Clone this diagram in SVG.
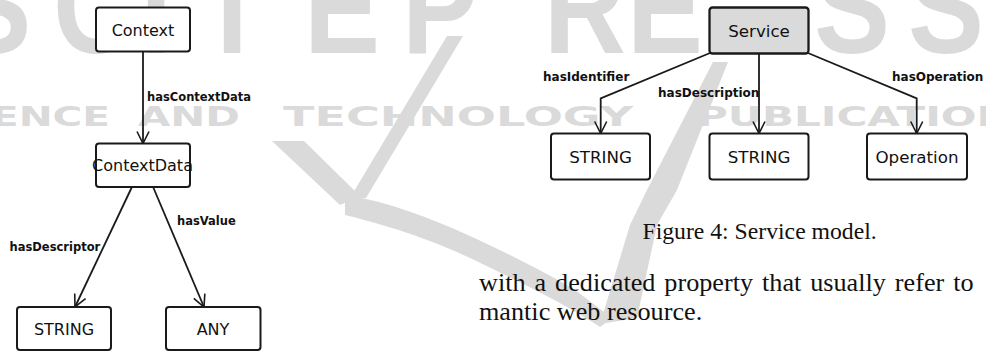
<svg xmlns="http://www.w3.org/2000/svg" width="986" height="351" viewBox="0 0 986 351">
<style>
.wm{fill:#dadada;}
.wmt{font-family:"Liberation Sans",Arial,sans-serif;font-weight:bold;font-size:134px;text-anchor:middle;fill:#dadada;}
.wmm{font-family:"DejaVu Sans",sans-serif;font-weight:bold;font-size:26px;fill:#dadada;}
.box{fill:#ffffff;stroke:#1a1a1a;stroke-width:2;}
.node{font-family:"DejaVu Sans",sans-serif;font-size:16px;text-anchor:middle;fill:#111;}
.nodeR{font-family:"DejaVu Sans",sans-serif;font-size:16.7px;text-anchor:middle;fill:#111;}
.lbl{font-family:"DejaVu Sans",sans-serif;font-weight:bold;font-size:11.5px;fill:#111;}
.lblR{font-family:"DejaVu Sans",sans-serif;font-weight:bold;font-size:12px;fill:#111;}
.edge{fill:none;stroke:#1a1a1a;stroke-width:1.8;}
.serif{font-family:"Liberation Serif","Times New Roman",serif;fill:#111;}
</style>
<defs>
<marker id="arr" markerUnits="userSpaceOnUse" markerWidth="16" markerHeight="16" refX="13" refY="7" orient="auto">
<path d="M1,1 L13,7 L1,13" fill="none" stroke="#1a1a1a" stroke-width="1.6"/>
</marker>
</defs>
<rect width="986" height="351" fill="#ffffff"/>
<g id="watermark">
<g transform="scale(0.85,1)">
<text class="wmt" x="-8" y="53">S</text>
<text class="wmt" x="110.6" y="53">C</text>
<text class="wmt" x="183.5" y="53">I</text>
<text class="wmt" x="272.9" y="53">T</text>
<text class="wmt" x="402.4" y="53">E</text>
<text class="wmt" x="517.6" y="53">P</text>
<text class="wmt" x="688.2" y="53">R</text>
<text class="wmt" x="782.4" y="53">E</text>
<text class="wmt" x="1002.4" y="53">S</text>
<text class="wmt" x="1112.9" y="53">S</text>
</g>
<text class="wmm" x="-83" y="126" textLength="193" lengthAdjust="spacingAndGlyphs">SCIENCE</text>
<text class="wmm" x="138" y="126" textLength="102" lengthAdjust="spacingAndGlyphs">AND</text>
<text class="wmm" x="283" y="126" textLength="350" lengthAdjust="spacingAndGlyphs">TECHNOLOGY</text>
<text class="wmm" x="697" y="126" textLength="345" lengthAdjust="spacingAndGlyphs">PUBLICATIONS</text>
<polygon class="wm" points="272,141 304,141 360,196 340,205"/>
<polygon class="wm" points="447,36 463,36 366,198 350,198"/>
<path class="wm" d="M345,195 C390,202 430,218 470,236 C505,252 545,272 575,290 L612,318 L600,327 C575,310 540,292 505,275 C470,258 430,236 345,215 Z"/>
<polygon class="wm" points="713,62 728,62 677,190 657,225 637,318 600,324 630,225 647,190"/>
</g>
<g id="connectors">
<path class="edge" d="M143,52 L143,143.5" marker-end="url(#arr)"/>
<path class="edge" d="M131.7,187.5 L75,307" marker-end="url(#arr)"/>
<path class="edge" d="M153.3,187.5 L204,307" marker-end="url(#arr)"/>
<path class="edge" d="M710,53 L600.7,98.3 L600.7,133.5" marker-end="url(#arr)"/>
<path class="edge" d="M759,53.5 L759,133.5" marker-end="url(#arr)"/>
<path class="edge" d="M808,53 L916.7,98.3 L916.7,133.5" marker-end="url(#arr)"/>
<text class="lbl" x="147" y="101">hasContextData</text>
<text class="lbl" x="9.5" y="251">hasDescriptor</text>
<text class="lbl" x="177" y="225">hasValue</text>
<text class="lblR" x="543" y="81">hasIdentifier</text>
<text class="lblR" x="658" y="97">hasDescription</text>
<text class="lblR" x="892" y="81">hasOperation</text>
</g>
<g id="n-context">
<rect class="box" x="96" y="7.5" width="94" height="44" rx="3"/>
<text class="node" x="143" y="35.5">Context</text>
</g>
<g id="n-contextdata">
<rect class="box" x="96" y="143.5" width="94" height="43.5" rx="3"/>
<text class="node" x="142.5" y="171">ContextData</text>
</g>
<g id="n-string-left">
<rect class="box" x="17" y="307" width="94" height="43" rx="3"/>
<text class="node" x="64" y="334.5">STRING</text>
</g>
<g id="n-any">
<rect class="box" x="166" y="307" width="94.5" height="43" rx="3"/>
<text class="node" x="213" y="334.5">ANY</text>
</g>
<g id="n-service">
<rect class="box" x="709.5" y="7.5" width="99" height="46" rx="3" style="fill:#dadada;stroke-width:2.3"/>
<text class="nodeR" x="759" y="36.5">Service</text>
</g>
<g id="n-string-1">
<rect class="box" x="551" y="133.5" width="99" height="46" rx="3"/>
<text class="nodeR" x="600.5" y="162.5">STRING</text>
</g>
<g id="n-string-2">
<rect class="box" x="709.5" y="133.5" width="99" height="46" rx="3"/>
<text class="nodeR" x="759" y="162.5">STRING</text>
</g>
<g id="n-operation">
<rect class="box" x="867" y="133.5" width="100" height="46" rx="3"/>
<text class="nodeR" x="917" y="162.5">Operation</text>
</g>
<g id="caption">
<text class="serif" x="642.5" y="239" font-size="23.7">Figure 4: Service model.</text>
<text class="serif" x="479" y="291" font-size="26.2" word-spacing="2.4">with a dedicated property that usually refer to</text>
<text class="serif" x="479" y="320" font-size="26.2">mantic web resource.</text>
</g>
</svg>
